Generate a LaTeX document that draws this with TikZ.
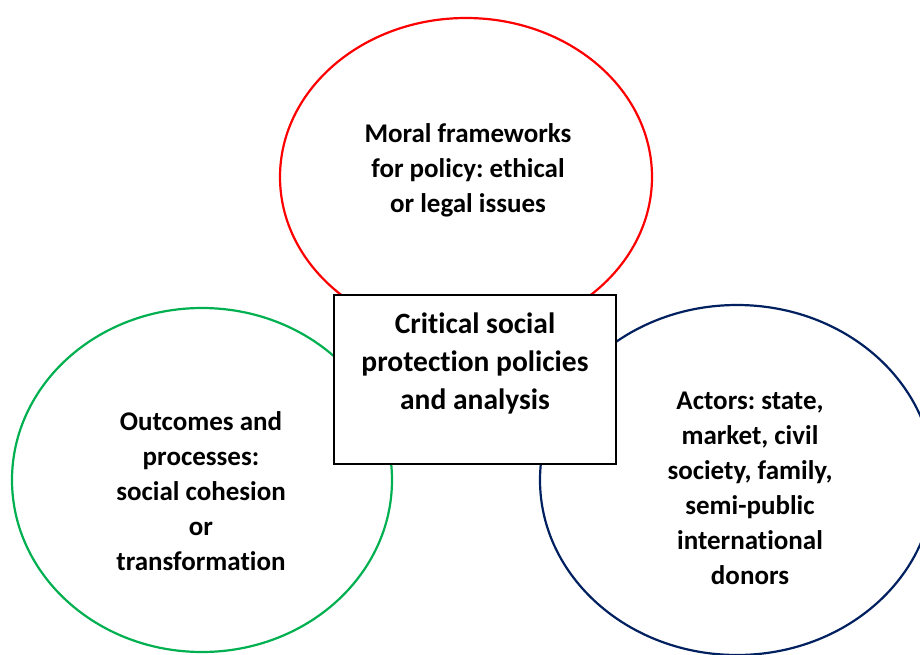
\documentclass[tikz,border=0pt]{standalone}
\usepackage{fontspec}
\setmainfont{Carlito}[Ligatures={NoCommon}]
\frenchspacing
\definecolor{ringred}{HTML}{FF0000}
\definecolor{ringgreen}{HTML}{00B050}
\definecolor{ringblue}{HTML}{002060}
\begin{document}
\begin{tikzpicture}[x=1pt,y=-1pt,
  ring/.style={line width=2.2pt},
  lbl/.style={align=center,font=\fontsize{27}{35}\selectfont\bfseries,inner sep=0pt},
  mainbox/.style={draw=black,line width=2.2pt,fill=white,minimum width=282pt,minimum height=169pt,inner sep=0pt}]
\useasboundingbox (0,0) rectangle (920,655);
\begin{scope}
\clip (0,0) rectangle (920,655);
\draw[ring,ringred] (466,177) ellipse [x radius=186, y radius=159];
\draw[ring,ringgreen] (202,480) ellipse [x radius=190, y radius=172];
\draw[ring,ringblue] (737,480) ellipse [x radius=197, y radius=175];
\end{scope}
\node[mainbox] (box) at (475,379.5) {};
\node[lbl,font=\fontsize{29.5}{38}\selectfont\bfseries] (boxtxt) at (475,363) {Critical social\\protection policies\\and analysis};
\node[lbl] (moral) at (468,170) {Moral frameworks\\for policy: ethical\\or legal issues};
\node[lbl] (outcomes) at (201,491) {Outcomes and\\processes:\\social cohesion\\or\\transformation};
\node[lbl] (actors) at (750,488) {Actors: state,\\market, civil\\society, family,\\semi-public\\international\\donors};
\end{tikzpicture}
\end{document}
